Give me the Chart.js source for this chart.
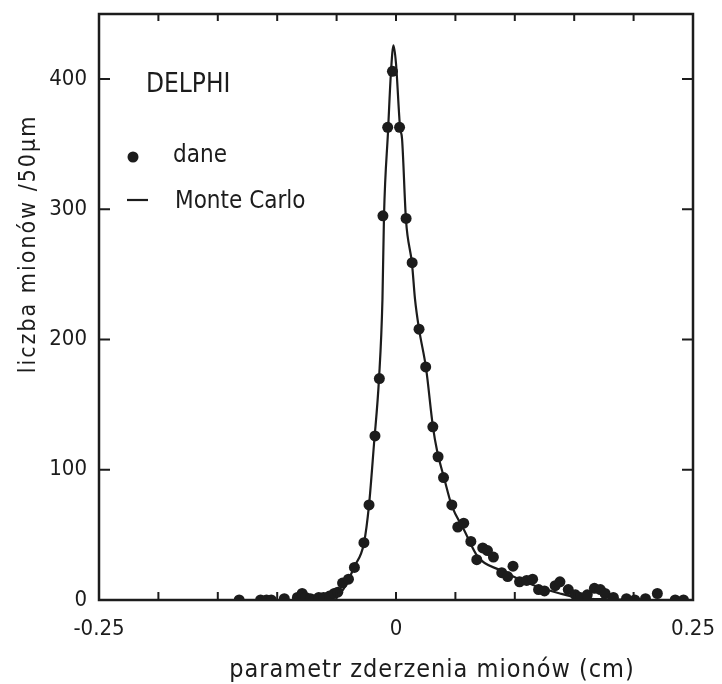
<!DOCTYPE html>
<html>
<head>
<meta charset="utf-8">
<title>DELPHI - parametr zderzenia mionów</title>
<script src="https://cdn.jsdelivr.net/npm/chart.js@4.4.1/dist/chart.umd.min.js"></script>
<style>
  html, body { margin: 0; padding: 0; background: #fff; }
  canvas { display: block; }
</style>
</head>
<body>
<canvas id="myChart" width="722" height="684"></canvas>
<script>
  // data points (dane): impact parameter in cm, muons per 50 um
  const daneX = [-0.132, -0.114, -0.109, -0.105, -0.094, -0.083, -0.079, -0.076, -0.072, -0.069,
                 -0.065, -0.061, -0.056, -0.052, -0.049, -0.045, -0.040, -0.035, -0.027, -0.0227,
                 -0.0177, -0.014, -0.011, -0.007, -0.003,
                 0.003, 0.0085, 0.0136, 0.0194, 0.025, 0.031, 0.0354, 0.040, 0.047, 0.052,
                 0.057, 0.063, 0.068, 0.073, 0.077, 0.082, 0.089, 0.094, 0.0985, 0.104,
                 0.110, 0.115, 0.120, 0.125, 0.134, 0.138, 0.145, 0.151, 0.155, 0.161,
                 0.167, 0.172, 0.176, 0.183, 0.194, 0.201, 0.210, 0.220, 0.235, 0.242];
  const daneY = [0, 0, 0, 0, 1, 2, 5, 2, 1, 0,
                 2, 2, 3, 5, 6, 13, 16, 25, 44, 73,
                 126, 170, 295, 363, 406,
                 363, 293, 259, 208, 179, 133, 110, 94, 73, 56,
                 59, 45, 31, 40, 38, 33, 21, 18, 26, 14,
                 15, 16, 8, 7, 11, 14, 8, 4, 2, 4,
                 9, 8, 5, 2, 1, 0, 1, 5, 0, 0];

  // Monte Carlo curve
  const mcX = [-0.25, -0.10, -0.0724, -0.0581, -0.0471, -0.0412, -0.0354, -0.0269, -0.0227, -0.0185,
               -0.0143, -0.0114, -0.0101, -0.0067, -0.0042, -0.0021, 0.0, 0.0034, 0.0051, 0.0084,
               0.0135, 0.0160, 0.0194, 0.0253, 0.0311, 0.0345, 0.0404, 0.0471, 0.0572, 0.0690,
               0.0875, 0.1153, 0.1380, 0.1549, 0.1801, 0.2054, 0.25];
  const mcY = [0, 0, 0, 1.5, 5, 13, 25, 44, 73, 120,
               170, 231, 295, 360, 406, 426, 412, 363, 354, 292,
               258, 231, 208, 178, 133, 115, 94, 72, 54, 33,
               23, 11.5, 5, 1.5, 0.5, 0, 0];

  // labelled ticks on the x axis (minor ticks every 0.05)
  const xTickLabels = [-0.25, 0, 0.25];

  const FONT = "'DejaVu Sans Condensed', 'DejaVu Sans', sans-serif";
  const INK = '#1c1c1c';

  // frame round the plot and inward ticks on all four sides
  const framePlugin = {
    id: 'frame',
    afterDraw(chart) {
      const ctx = chart.ctx;
      const {left, right, top, bottom} = chart.chartArea;
      const xs = chart.scales.x, ys = chart.scales.y;
      ctx.save();
      ctx.strokeStyle = INK;
      ctx.lineWidth = 2;
      ctx.beginPath();
      xs.ticks.forEach(t => {
        const px = xs.getPixelForValue(t.value);
        ctx.moveTo(px, bottom); ctx.lineTo(px, bottom - 8);
        ctx.moveTo(px, top); ctx.lineTo(px, top + 7);
      });
      ys.ticks.forEach(t => {
        const py = ys.getPixelForValue(t.value);
        ctx.moveTo(left, py); ctx.lineTo(left + 11, py);
        ctx.moveTo(right, py); ctx.lineTo(right - 11, py);
      });
      ctx.stroke();
      ctx.lineWidth = 2.5;
      ctx.strokeRect(left, top, right - left, bottom - top);
      ctx.restore();
    }
  };

  // axis titles and the legend block inside the plot
  const textPlugin = {
    id: 'texts',
    afterDraw(chart) {
      const ctx = chart.ctx;
      const {left, top} = chart.chartArea;
      const ds = chart.data.datasets;
      ctx.save();
      ctx.fillStyle = INK;
      ctx.textBaseline = 'alphabetic';

      // y title
      ctx.save();
      ctx.font = '23px ' + FONT;
      ctx.letterSpacing = '2px';
      ctx.translate(35, 244);
      ctx.rotate(-Math.PI / 2);
      ctx.textAlign = 'center';
      ctx.fillText('liczba mionów /50µm', 0, 0);
      ctx.restore();

      // x title
      ctx.font = '25px ' + FONT;
      ctx.letterSpacing = '1px';
      ctx.textAlign = 'center';
      ctx.fillText('parametr zderzenia mionów (cm)', 432, 677);
      ctx.letterSpacing = '0px';

      // legend
      ctx.textAlign = 'left';
      ctx.font = '26px ' + FONT;
      ctx.fillText('DELPHI', left + 47, top + 78);
      ctx.font = '24px ' + FONT;
      ctx.beginPath();
      ctx.arc(left + 34, top + 143, ds[0].pointRadius, 0, Math.PI * 2);
      ctx.fillStyle = ds[0].backgroundColor;
      ctx.fill();
      ctx.fillStyle = INK;
      ctx.fillText(ds[0].label, left + 74, top + 148);
      ctx.strokeStyle = ds[1].borderColor;
      ctx.lineWidth = ds[1].borderWidth;
      ctx.beginPath();
      ctx.moveTo(left + 28, top + 186); ctx.lineTo(left + 49, top + 186);
      ctx.stroke();
      ctx.fillText(ds[1].label, left + 76, top + 194);
      ctx.restore();
    }
  };

  const dane = daneX.map((x, i) => ({x: x, y: daneY[i]}));
  const mc = mcX.map((x, i) => ({x: x, y: mcY[i]}));

  const canvas = document.getElementById('myChart');
  const chart = new Chart(canvas, {
    type: 'scatter',
    data: {
      datasets: [
        {
          label: 'dane',
          data: dane,
          pointRadius: 5.5,
          pointBorderWidth: 0,
          backgroundColor: INK,
          borderColor: INK,
          order: 1
        },
        {
          label: 'Monte Carlo',
          type: 'line',
          data: mc,
          showLine: true,
          pointRadius: 0,
          borderWidth: 2.2,
          borderColor: INK,
          cubicInterpolationMode: 'monotone',
          fill: false,
          order: 2
        }
      ]
    },
    options: {
      responsive: false,
      animation: false,
      devicePixelRatio: 1,
      layout: { padding: { top: 14, right: 29, left: 0, bottom: 0 } },
      plugins: {
        legend: { display: false },
        tooltip: { enabled: false }
      },
      scales: {
        x: {
          type: 'linear',
          min: -0.25,
          max: 0.25,
          grid: { display: false, drawTicks: false },
          border: { display: false },
          ticks: {
            stepSize: 0.05,
            autoSkip: false,
            maxRotation: 0,
            padding: 16,
            color: INK,
            font: { family: FONT, size: 22 },
            callback: v => xTickLabels.some(t => Math.abs(t - v) < 1e-9) ? (Math.abs(v) < 1e-9 ? '0' : v.toFixed(2)) : ''
          },
          // fixed box, no extra room for the end labels
          afterFit: s => { s.height = 84; s.paddingLeft = 0; s.paddingRight = 0; }
        },
        y: {
          min: 0,
          max: 450,
          grid: { display: false, drawTicks: false },
          border: { display: false },
          ticks: {
            stepSize: 100,
            includeBounds: false,
            padding: 12,
            color: INK,
            font: { family: FONT, size: 22 }
          },
          afterFit: s => { s.width = 99; s.paddingTop = 0; s.paddingBottom = 0; }
        }
      }
    },
    plugins: [framePlugin, textPlugin]
  });
</script>
</body>
</html>
